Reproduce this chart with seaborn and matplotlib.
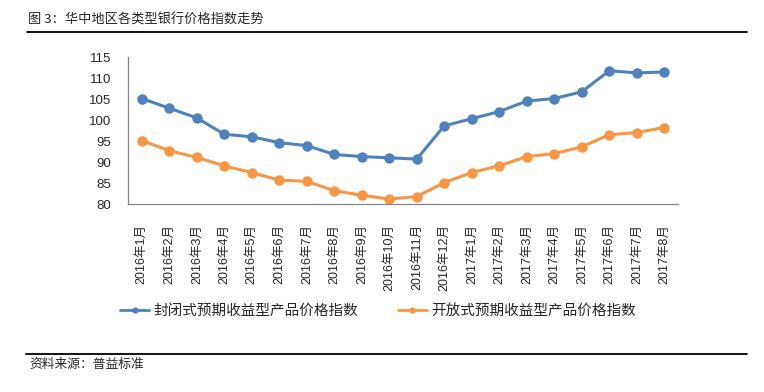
import numpy as np
import pandas as pd
import matplotlib
matplotlib.use('Agg')
import matplotlib.pyplot as plt
from matplotlib.lines import Line2D
import seaborn as sns

# data
months = ['2016年1月', '2016年2月', '2016年3月', '2016年4月', '2016年5月',
          '2016年6月', '2016年7月', '2016年8月', '2016年9月', '2016年10月',
          '2016年11月', '2016年12月', '2017年1月', '2017年2月', '2017年3月',
          '2017年4月', '2017年5月', '2017年6月', '2017年7月', '2017年8月']
closed_idx = [105.2, 102.9, 100.6, 96.7, 96.1, 94.7, 94.0, 91.9, 91.4, 91.1,
              90.8, 98.7, 100.4, 102.1, 104.6, 105.2, 106.8, 111.8, 111.3, 111.5]
open_idx = [95.2, 92.8, 91.2, 89.2, 87.6, 85.8, 85.5, 83.3, 82.2, 81.3,
            81.9, 85.2, 87.6, 89.2, 91.4, 92.1, 93.7, 96.6, 97.1, 98.3]
series_names = ['封闭式预期收益型产品价格指数', '开放式预期收益型产品价格指数']
colors = ['#4f81bd', '#f79646']
yticks = [80, 85, 90, 95, 100, 105, 110, 115]

sns.set_style('white')
plt.rcParams['font.family'] = ['Noto Sans CJK SC', 'DejaVu Sans']

W, H = 764, 392
fig = plt.figure(figsize=(W / 100, H / 100), dpi=100)
ax = fig.add_axes([128 / W, 1 - 204.5 / H, 550 / W, (204.5 - 57.3) / H])

pos = np.arange(len(months))
for vals, name, col in zip([closed_idx, open_idx], series_names, colors):
    sns.lineplot(x=pos, y=vals, ax=ax, color=col, linewidth=2.2, marker='o',
                 markersize=7.5, markeredgewidth=0, label=name, legend=False)

# axes styling
ax.set_xlim(-0.5, len(months) - 0.5)
ax.set_ylim(80, 115)
ax.set_yticks(yticks)
ax.set_yticklabels([str(t) for t in yticks], family=['Liberation Sans'], fontsize=9.5)
ax.set_xticks(pos)
ax.set_xticklabels(months, rotation=90, fontsize=9, va='top',
                   family=['Liberation Sans', 'Noto Sans CJK SC'])
ax.set_xticks(np.arange(-0.5, len(months)), minor=True)
ax.tick_params(axis='x', which='major', length=0, pad=14)
ax.tick_params(axis='x', which='minor', length=4, width=0.8, color='#868686', direction='out')
ax.tick_params(axis='y', length=4, width=0.8, color='#868686', direction='out', pad=8)
ax.set_xlabel('')
ax.set_ylabel('')
for s in ['top', 'right']:
    ax.spines[s].set_visible(False)
for s in ['left', 'bottom']:
    ax.spines[s].set_color('#868686')
    ax.spines[s].set_linewidth(0.9)

# legend below
handles = [Line2D([], [], color=c, linewidth=2, marker='o', markersize=4.5,
                  markeredgewidth=0) for c in colors]
fig.legend(handles, series_names, loc='center', bbox_to_anchor=(0.495, 1 - 311 / H),
           ncol=2, frameon=False, fontsize=10.5, handlelength=2.0,
           handletextpad=0.3, columnspacing=2.7)

# title, rules and source
fig.text(28 / W, 1 - 20 / H, '图 3：华中地区各类型银行价格指数走势', fontsize=9.5,
         va='center', ha='left')
fig.add_artist(Line2D([27 / W, 747 / W], [1 - 32 / H, 1 - 32 / H], color='black',
                      linewidth=1.3, transform=fig.transFigure))
fig.add_artist(Line2D([26 / W, 747 / W], [1 - 354 / H, 1 - 354 / H], color='black',
                      linewidth=1.3, transform=fig.transFigure))
fig.text(29 / W, 1 - 364 / H, '资料来源：普益标准', fontsize=9.2, va='center', ha='left')

fig.savefig('out.png', dpi=100)
